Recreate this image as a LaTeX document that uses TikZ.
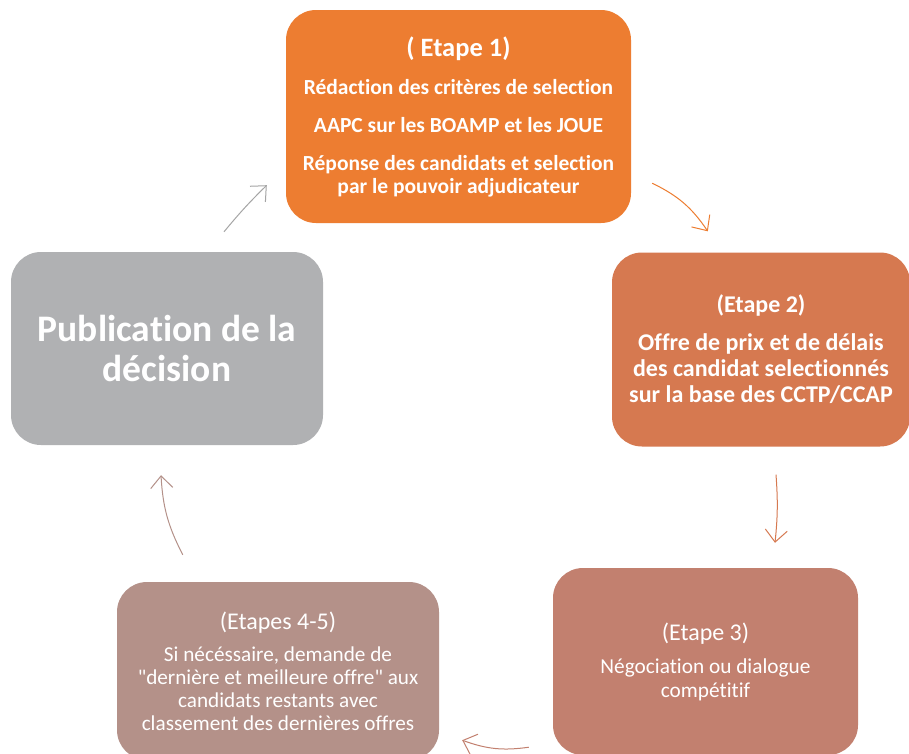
\documentclass[tikz,border=0pt]{standalone}
\usepackage{fontspec}
\setmainfont{Carlito}[Ligatures={TeX,NoCommon}]
\usetikzlibrary{arrows.meta}

\definecolor{etapeA}{HTML}{ED7D31}
\definecolor{etapeB}{HTML}{D67950}
\definecolor{etapeC}{HTML}{C2806F}
\definecolor{etapeD}{HTML}{B49189}
\definecolor{publiG}{HTML}{B0B1B3}
\definecolor{linkG}{HTML}{A5A5A5}

\begin{document}
\begin{tikzpicture}[
    x=1pt, y=-1pt,
    stage/.style={rounded corners=30pt, align=center, text=white, inner sep=0pt},
    bold/.style={font=\bfseries\fontsize{21.5}{23}\selectfont},
    link/.style={-{Straight Barb[length=12pt, width=22pt]}, line width=1pt, bend left=#1},
    link/.default=8
]
\clip (0,0) rectangle (909,753);
\fill[white] (0,0) rectangle (909,753);

\node[stage, bold, fill=etapeA, minimum width=345pt, minimum height=213pt] (etape1) at (458.5,116.5)
    {{\fontsize{26.5}{25}\selectfont ( Etape 1)}\\[15pt]
     Rédaction des critères de selection\\[15pt]
     AAPC sur les BOAMP et les JOUE\\[15pt]
     Réponse des candidats et selection\\
     par le pouvoir adjudicateur};
\node[stage, fill=etapeB, minimum width=298pt, minimum height=194pt,
      font=\bfseries\fontsize{24}{26}\selectfont] (etape2) at (761,349.5)
    {(Etape 2)\\[12pt]
     Offre de prix et de délais\\
     des candidat selectionnés\\
     sur la base des CCTP/CCAP};
\node[stage, fill=etapeC, minimum width=305pt, minimum height=187pt,
      font=\fontsize{21.3}{24}\selectfont] (etape3) at (705.5,661.5)
    {{\fontsize{24}{24}\selectfont (Etape 3)}\\[9pt]
     Négociation ou dialogue\\
     compétitif};
\node[stage, fill=etapeD, minimum width=322pt, minimum height=178pt,
      font=\fontsize{21.2}{23}\selectfont] (etape45) at (278,671)
    {{\fontsize{24}{23}\selectfont (Etapes 4-5)}\\[9pt]
     Si nécéssaire, demande de\\
     \textquotedbl dernière et meilleure offre\textquotedbl{} aux\\
     candidats restants avec\\
     classement des dernières offres};
\node[stage, fill=publiG, minimum width=312pt, minimum height=193pt,
      font=\bfseries\fontsize{37.5}{40}\selectfont] (publi) at (167,348.5)
    {Publication de la\\
     décision};

\draw[link=15, etapeA] ([shift={(21,-40)}]etape1.south east) to ([shift={(96,-21)}]etape2.north west);
\draw[link=5, etapeB] ([shift={(15,28)}]etape2.south) to ([shift={(69.5,-25)}]etape3.north);
\draw[link=14, etapeC] ([shift={(-24,-8)}]etape3.south west) to ([shift={(23,-20)}]etape45.south east);
\draw[link=12, etapeD] ([shift={(66,-27)}]etape45.north west) to ([shift={(-6,30)}]publi.south);
\draw[link=3, linkG] ([shift={(57,-20)}]publi.north) to ([shift={(-19,-38)}]etape1.south west);
\end{tikzpicture}
\end{document}
